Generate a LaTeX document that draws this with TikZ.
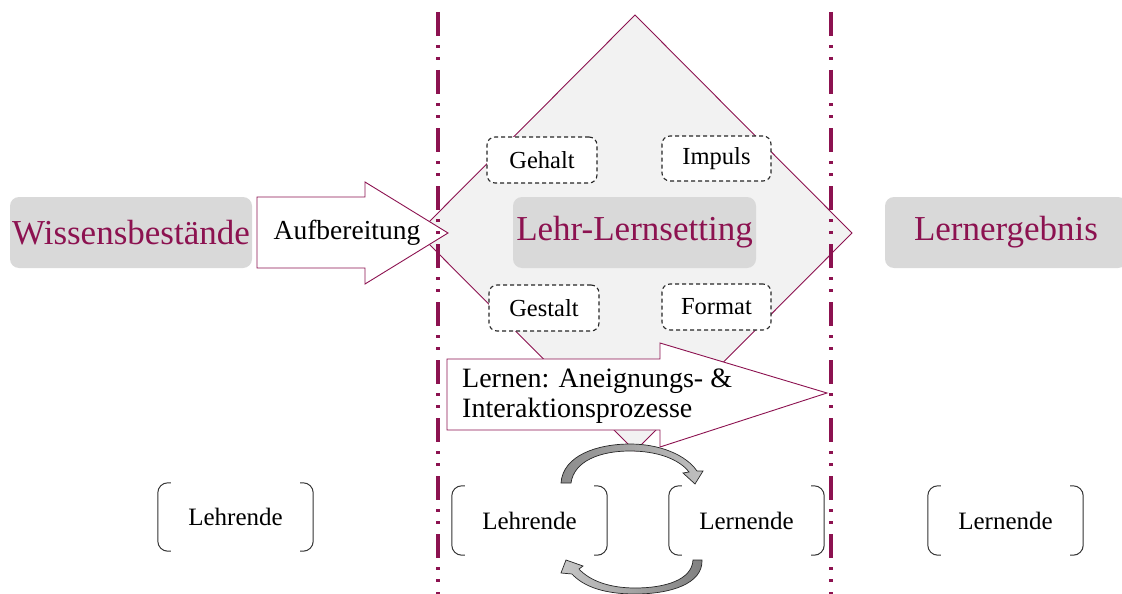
\documentclass[tikz,border=0pt]{standalone}
\usepackage{fontspec}
\setmainfont{Liberation Serif}
\definecolor{mag}{RGB}{140,18,80}
\definecolor{boxgray}{RGB}{217,217,217}
\definecolor{diafill}{RGB}{242,242,242}
\tikzset{
  bigbox/.style={rounded corners=9pt, fill=boxgray, minimum width=242pt, minimum height=71pt, text=mag, font=\fontsize{35}{40}\selectfont, inner sep=0pt},
  dbox/.style={draw=black!85, dash pattern=on 4pt off 3pt, rounded corners=8pt, fill=white, minimum width=110pt, minimum height=46pt, font=\fontsize{24.5}{28}\selectfont, line width=1.1pt, inner sep=0pt},
  blabel/.style={minimum width=155pt, minimum height=69pt, font=\fontsize{25}{30}\selectfont, inner sep=0pt},
  brk/.style={draw=black!80, line width=1pt, rounded corners=10pt},
  flow/.style={draw=mag, line width=0.9pt, fill=white},
  curv/.style={draw=black!85, line width=0.7pt},
  sepline/.style={draw=mag, line width=4pt, dash pattern=on 24pt off 9pt on 3pt off 9pt on 3pt off 10pt},
}
\newcommand{\brackets}[1]{%
  \draw[brk] ([xshift=13pt]#1.north west) -- (#1.north west) -- (#1.south west) -- ([xshift=13pt]#1.south west);
  \draw[brk] ([xshift=-13pt]#1.north east) -- (#1.north east) -- (#1.south east) -- ([xshift=-13pt]#1.south east);}
\begin{document}
\begin{tikzpicture}[x=1pt,y=-1pt]
\useasboundingbox (0,0) rectangle (1122,594);
% diamond
\draw[draw=mag, line width=0.9pt, fill=diafill] (635,15) -- (852,233) -- (635,451) -- (418,233) -- cycle;
% big boxes
\node[bigbox] (wiss) at (131,232.5) {Wissensbestände};
\node[bigbox, minimum width=243pt] (setting) at (634.5,232.5) {Lehr-Lernsetting};
\node[bigbox] (erg) at (1006,232.5) {Lernergebnis};
% Aufbereitung arrow
\draw[flow] (257,197) -- (365,197) -- (365,182) -- (448,233) -- (365,284) -- (365,268) -- (257,268) -- cycle;
\node[font=\fontsize{27.5}{32}\selectfont, inner sep=0pt] (aufb) at (347,233) {Aufbereitung};
% dashed boxes
\node[dbox] (gehalt) at (542,160) {Gehalt};
\node[dbox, minimum width=109pt, minimum height=45pt] (impuls) at (716.5,158.5) {Impuls};
\node[dbox] (gestalt) at (544,308) {Gestalt};
\node[dbox, minimum width=109pt] (format) at (716.5,307) {Format};
% Lernen arrow
\draw[flow] (447,359) -- (660,359) -- (660,343) -- (827,393) -- (660,447) -- (660,430) -- (447,430) -- cycle;
\node[anchor=west, align=left, inner sep=0pt, font=\fontsize{28}{30}\selectfont] (lernen) at (462,396) {Lernen: Aneignungs- \&\\Interaktionsprozesse};
% bracket labels
\node[blabel, minimum height=68pt] (lehr1) at (235.5,517) {Lehrende};
\node[blabel] (lehr2) at (529.5,520.5) {Lehrende};
\node[blabel] (lern2) at (746.5,520.5) {Lernende};
\node[blabel] (lern3) at (1005.5,520.5) {Lernende};
\brackets{lehr1}
\brackets{lehr2}
\brackets{lern2}
\brackets{lern3}
% curved arrows
\draw[curv, left color=black!45, right color=black!25]
  (561,483) .. controls (563,455) and (598,444) .. (630,444)
  .. controls (660,444) and (686,455) .. (697,471)
  -- (703,471) -- (695,484) -- (683,473) -- (689,472)
  .. controls (679,459) and (657,451) .. (630,451)
  .. controls (600,451) and (574,461) .. (571,483) -- cycle;
\draw[curv, left color=black!22, right color=black!50]
  (693,560) -- (702,560)
  .. controls (703,584) and (670,594) .. (635,594)
  .. controls (605,594) and (584,587) .. (572,574)
  -- (561,573) -- (566,560) -- (583,566) -- (579,569)
  .. controls (590,581) and (610,588) .. (635,588)
  .. controls (665,588) and (692,580) .. (693,560) -- cycle;
% separator lines
\coordinate (s1t) at (438,12); \coordinate (s1b) at (438,594);
\coordinate (s2t) at (831,12); \coordinate (s2b) at (831,594);
\draw[sepline] (s1t) -- (s1b);
\draw[sepline] (s2t) -- (s2b);
\end{tikzpicture}
\end{document}
